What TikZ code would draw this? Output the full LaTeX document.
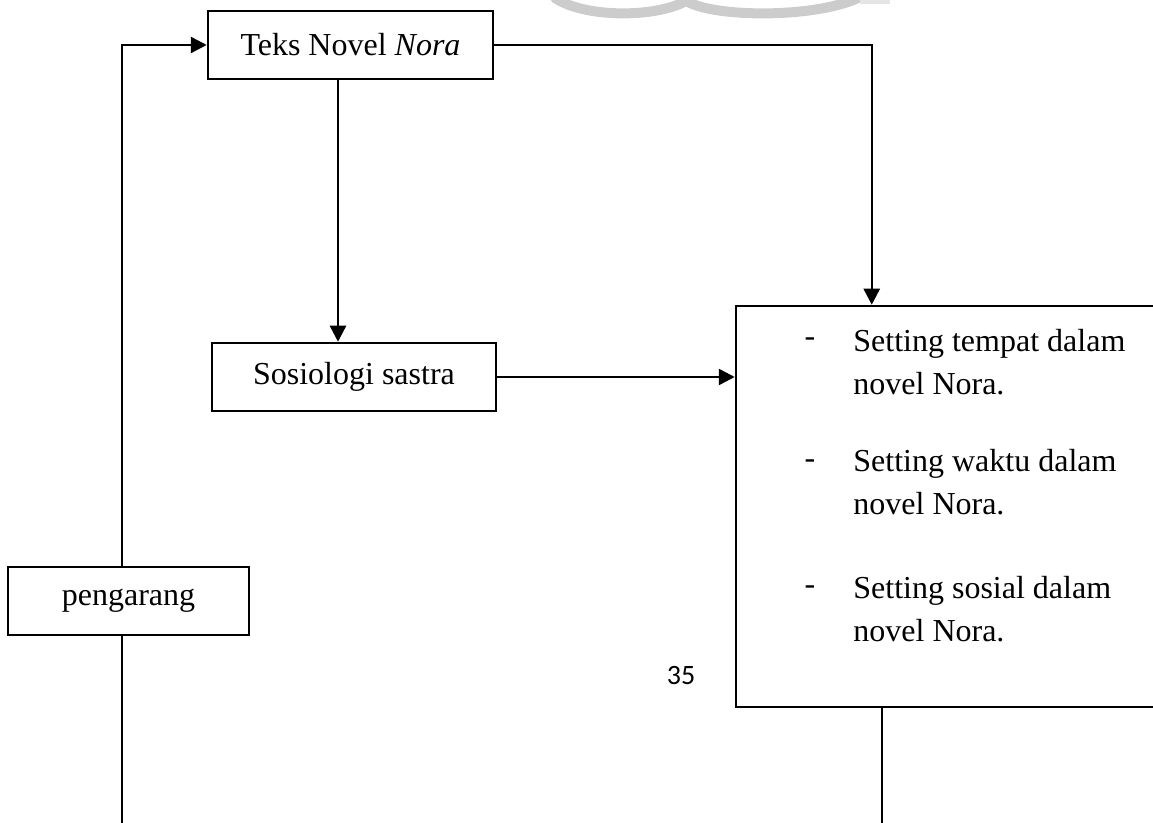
\documentclass[tikz,border=0pt]{standalone}
\usepackage{fontspec}
\setmainfont{Liberation Serif}
\newfontfamily\calibrifont{Carlito}
\usetikzlibrary{arrows.meta,calc}
\tikzset{
  box/.style={draw, line width=1.25pt, inner sep=0pt, font=\fontsize{16}{19}\selectfont},
  conn/.style={line width=1.25pt},
  arr/.style={conn, -{Triangle[length=8pt,width=8pt]}},
  item/.style={anchor=west, align=left, inner sep=0pt, font=\fontsize{16}{21.5}\selectfont},
  dashmark/.style={inner sep=0pt, font=\fontsize{16}{19}\selectfont}
}
\begin{document}
\begin{tikzpicture}[x=0.5pt,y=-0.5pt]
\useasboundingbox (0,0) rectangle (1153,823);
\clip (0,0) rectangle (1153,823);
% watermark remnant
\draw[gray!40, line width=5pt, line cap=round] (555,-2) .. controls (585,18) and (655,18) .. (686,1) .. controls (715,18) and (815,18) .. (858,-2);
\draw[gray!20, line width=2pt] (860,2) -- (890,2);
% nodes
\node[box, minimum width=142.5pt, minimum height=34pt] (teks) at (350.5,45) {Teks Novel \textit{Nora}};
\node[box, minimum width=142pt, minimum height=34pt] (sos) at (354,377) {Sosiologi sastra};
\node[box, minimum width=120.5pt, minimum height=34pt] (peng) at (128.5,601) {pengarang};
\node[draw, line width=1.25pt, inner sep=0pt, minimum width=219.5pt, minimum height=200.5pt] (set) at (955.5,506.5) {};
% items
\node[dashmark] (d1) at (810,342) {-};
\node[dashmark] (d2) at (810,464) {-};
\node[dashmark] (d3) at (810,590) {-};
\node[item] (i1) at (853,362.5) {Setting tempat dalam\\novel Nora.};
\node[item] (i2) at (853,482.5) {Setting waktu dalam\\novel Nora.};
\node[item] (i3) at (853,609) {Setting sosial dalam\\novel Nora.};
\node[font=\calibrifont\fontsize{14}{17}\selectfont] (pg) at (681,676) {35};
% connector end points
\coordinate (bl) at (122,823);
\coordinate (br) at (883,823);
% connectors
\draw[arr] ([xshift=-3.25pt]peng.north) |- (teks.west);
\draw[conn] ([xshift=-3.25pt]peng.south) -- ([xshift=-3.25pt]peng.south |- bl);
\draw[arr] ([xshift=-6.25pt]teks.south) -- ([xshift=-6.25pt]teks.south |- sos.north);
\draw[arr] (teks.east) -| ([xshift=68.5pt]set.north west);
\draw[arr] (sos.east) -- (sos.east -| set.west);
\draw[conn] ([xshift=73.5pt]set.south west) -- ([xshift=73.5pt]set.south west |- br);
\end{tikzpicture}
\end{document}
